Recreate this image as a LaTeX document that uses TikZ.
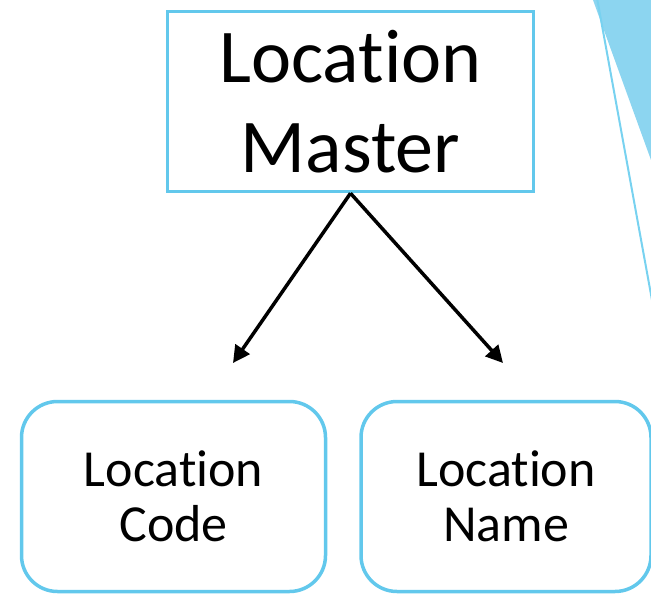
\documentclass[tikz,border=0pt]{standalone}
\usepackage{fontspec}
\setmainfont{Carlito}[Ligatures={NoCommon,NoContextual}]
\usetikzlibrary{arrows.meta}
\definecolor{boxblue}{RGB}{98,200,236}
\definecolor{triblue}{RGB}{140,213,240}
\definecolor{lineblue}{RGB}{120,210,240}
\tikzset{
  masterbox/.style={draw=boxblue, line width=3.5pt, minimum width=366pt, minimum height=180pt, align=center, inner sep=0pt, font=\fontsize{76}{90}\selectfont},
  childbox/.style={draw=boxblue, line width=3.5pt, rounded corners=36pt, minimum height=190pt, align=center, inner sep=0pt, font=\fontsize{52}{55}\selectfont},
  link/.style={line width=3.5pt, -{Triangle[length=17pt,width=17pt]}}
}
\begin{document}
\begin{tikzpicture}[x=1pt,y=-1pt]
\useasboundingbox (0,0) rectangle (651,598);
\clip (0,0) rectangle (651,598);
\fill[triblue] (593,0) -- (651,0) -- (651,160) -- cycle;
\draw[lineblue, line width=2pt] (597,-2) -- (652,300);
\node[masterbox] (master) at (350.5,101.5) {Location\\Master};
\node[childbox, minimum width=304pt] (code) at (173.5,496.5) {Location\\Code};
\node[childbox, minimum width=290pt] (name) at (506,496.5) {Location\\Name};
\coordinate (codetip) at (233,363);
\coordinate (nametip) at (503,363);
\draw[link] (master.south) -- (codetip);
\draw[link] (master.south) -- (nametip);
\end{tikzpicture}
\end{document}
